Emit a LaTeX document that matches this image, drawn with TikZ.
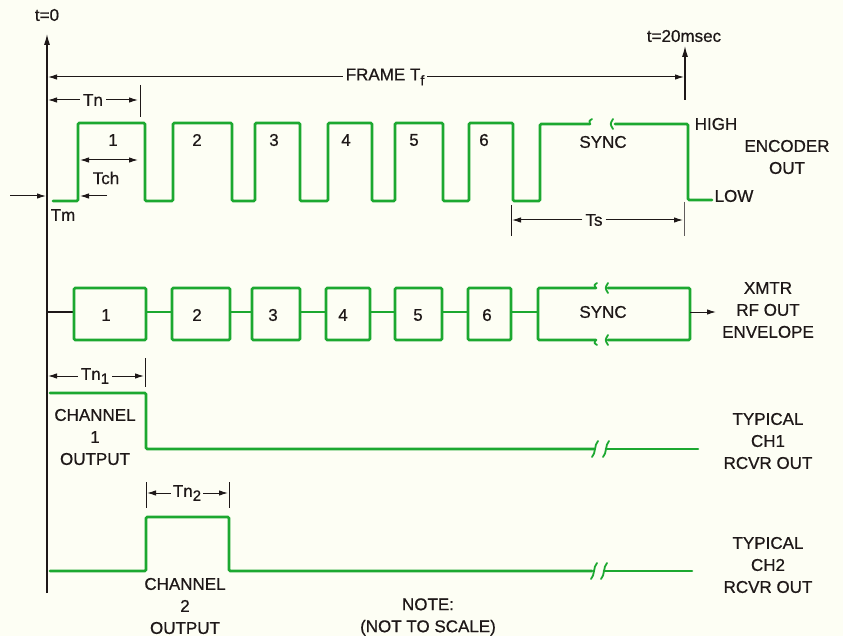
\documentclass[tikz,border=0pt]{standalone}
\usepackage{fontspec}
\setmainfont{Liberation Sans}
\newfontfamily\lblfont{Liberation Sans}[FakeBold=0.7]
\usetikzlibrary{arrows.meta}
\definecolor{bgc}{RGB}{253,254,244}
\definecolor{wavec}{RGB}{28,168,48}
\definecolor{inkc}{RGB}{30,24,24}
\begin{document}
\begin{tikzpicture}[x=1pt,y=-1pt,
  wave/.style={draw=wavec,line width=2.6pt,rounded corners=1.2pt,line cap=round},
  thinwave/.style={draw=wavec,line width=1.8pt},
  brk/.style={draw=wavec,line width=1.8pt,line cap=round},
  axis/.style={draw=inkc,line width=1.1pt},
  dimarr/.style={draw=inkc,line width=1pt,-{Latex[length=9pt,width=5.5pt]}},
  lbl/.style={text=inkc,inner sep=1pt,font=\lblfont\fontsize{17}{22}\selectfont,align=center},
  gap/.style={lbl,fill=bgc,inner sep=3pt}]
\useasboundingbox (0,0) rectangle (843,636);
\fill[bgc] (0,0) rectangle (843,636);

% axes
\coordinate (ax0) at (47,593);
\coordinate (ax1) at (47,34);
\draw[axis,-{Latex[length=11pt,width=6pt]}] (ax0) -- (ax1);
\node[lbl] (t0) at (47,15) {t=0};
\coordinate (ae0) at (685,100);
\coordinate (ae1) at (685,46);
\draw[axis,-{Latex[length=11pt,width=6pt]}] (ae0) -- (ae1);
\node[lbl] (t20) at (684,36) {t=20msec};

% frame
\node[gap] (frame) at (385,77) {FRAME T\raisebox{-5pt}{\fontsize{14}{14}\selectfont f}};
\draw[dimarr] (frame.west) -- (48,77);
\draw[dimarr] (frame.east) -- (684,77);

% Tn
\node[gap] (tn) at (93,100) {Tn};
\draw[dimarr] (tn.west) -- (48,100);
\draw[dimarr] (tn.east) -- (138,100);
\draw[axis,line width=1pt] (140,85) -- (140,117);

% encoder waveform
\draw[wave] (53,201) -- (78,201) -- (78,123) -- (145,123) -- (145,201) -- (173,201) -- (173,123)
  -- (232,123) -- (232,201) -- (255,201) -- (255,123) -- (300,123) -- (300,201) -- (328,201)
  -- (328,123) -- (372,123) -- (372,201) -- (395,201) -- (395,123) -- (443,123) -- (443,201)
  -- (469,201) -- (469,123) -- (513,123) -- (513,201) -- (540,201) -- (540,124) -- (590,124);
\draw[brk] (592,119) .. controls (589,121) .. (590,124);
\draw[wave] (615,124) -- (688,124) -- (688,200) -- (712,200);
\draw[brk] (613,119) .. controls (610,124) .. (613,129);
\draw[axis,line width=1pt,draw=inkc!70] (684,202) -- (684,236);

\foreach \n/\x in {1/113,2/197,3/274,4/346,5/414,6/484}
  \node[lbl] (e\n) at (\x,140) {\n};
\node[lbl] (esync) at (603,142) {SYNC};
\node[lbl] (high) at (716,124) {HIGH};
\node[lbl] (low) at (734,196) {LOW};
\node[lbl] (enc) at (787,157) {ENCODER\\OUT};

% Tch
\draw[draw=inkc,line width=1pt,{Latex[length=9pt,width=5.5pt]}-{Latex[length=9pt,width=5.5pt]}] (80,160) -- (138,160);
\node[lbl] (tch) at (106,178) {Tch};
% Tm
\coordinate (tmA) at (10,196);
\coordinate (tmB) at (107,196);
\draw[dimarr] (tmA) -- (46,196);
\draw[dimarr] (tmB) -- (80,196);
\node[lbl] (tm) at (63,215) {Tm};

% Ts
\node[gap] (ts) at (594,220) {Ts};
\draw[dimarr] (ts.west) -- (512,220);
\draw[dimarr] (ts.east) -- (683,220);
\draw[axis,line width=1pt] (511,205) -- (511,236);

% XMTR envelope
\draw[axis] (47,312) -- (74,312);
\draw[thinwave] (146,312) -- (172,312) (230,312) -- (252,312) (300,312) -- (326,312)
  (370,312) -- (395,312) (442,312) -- (468,312) (511,312) -- (538,312);
\foreach \a/\b in {74/146,172/230,252/300,326/370,395/442,468/511}
  \draw[wave] (\a,288) rectangle (\b,340);
\draw[wave] (596,288) -- (538,288) -- (538,340) -- (596,340);
\draw[wave] (608,288) -- (690,288) -- (690,340) -- (608,340);
\draw[brk] (597,283) .. controls (594,285) .. (596,288);
\draw[brk] (597,345) .. controls (594,343) .. (596,340);
\draw[brk] (608,283) .. controls (605,288) .. (608,293);
\draw[brk] (608,335) .. controls (605,340) .. (608,345);
\coordinate (xa) at (690,312);
\coordinate (xb) at (716,312);
\draw[dimarr] (xa) -- (xb);
\foreach \n/\x in {1/106,2/197,3/273,4/343,5/418,6/487}
  \node[lbl] (x\n) at (\x,315) {\n};
\node[lbl] (xsync) at (603,312) {SYNC};
\node[lbl] (xmtr) at (768,310) {XMTR\\RF OUT\\ENVELOPE};

% Tn1
\node[gap] (tn1) at (95,376) {Tn\raisebox{-4pt}{\fontsize{15}{15}\selectfont 1}};
\draw[dimarr] (tn1.west) -- (48,376);
\draw[dimarr] (tn1.east) -- (144,376);
\draw[axis,line width=1pt] (145,358) -- (145,387);

% CH1
\draw[wave] (50,393) -- (146,393) -- (146,449) -- (594,449);
\draw[wave] (606,449) -- (698,449);
\draw[brk] (592,457) .. controls (596,453) and (594,445) .. (598,441);
\draw[brk] (603,457) .. controls (607,453) and (605,445) .. (609,441);
\node[lbl] (ch1) at (95,437) {CHANNEL\\1\\OUTPUT};
\node[lbl] (rc1) at (768,441) {TYPICAL\\CH1\\RCVR OUT};

% Tn2
\node[gap,inner sep=2pt] (tn2) at (187,493) {Tn\raisebox{-4pt}{\fontsize{15}{15}\selectfont 2}};
\draw[dimarr] (tn2.west) -- (147,493);
\draw[dimarr] (tn2.east) -- (228,493);
\draw[axis,line width=1pt] (146,482) -- (146,508);
\draw[axis,line width=1pt] (229,482) -- (229,508);

% CH2
\draw[wave] (50,571) -- (146,571) -- (146,517) -- (229,517) -- (229,571) -- (592,571);
\draw[wave] (604,571) -- (692,571);
\draw[brk] (591,579) .. controls (595,575) and (593,567) .. (597,563);
\draw[brk] (601,579) .. controls (605,575) and (603,567) .. (607,563);
\node[lbl] (ch2) at (185,606) {CHANNEL\\2\\OUTPUT};
\node[lbl] (rc2) at (768,565) {TYPICAL\\CH2\\RCVR OUT};

\node[lbl] (note) at (428,617) {NOTE:\\(NOT TO SCALE)};
\end{tikzpicture}
\end{document}
